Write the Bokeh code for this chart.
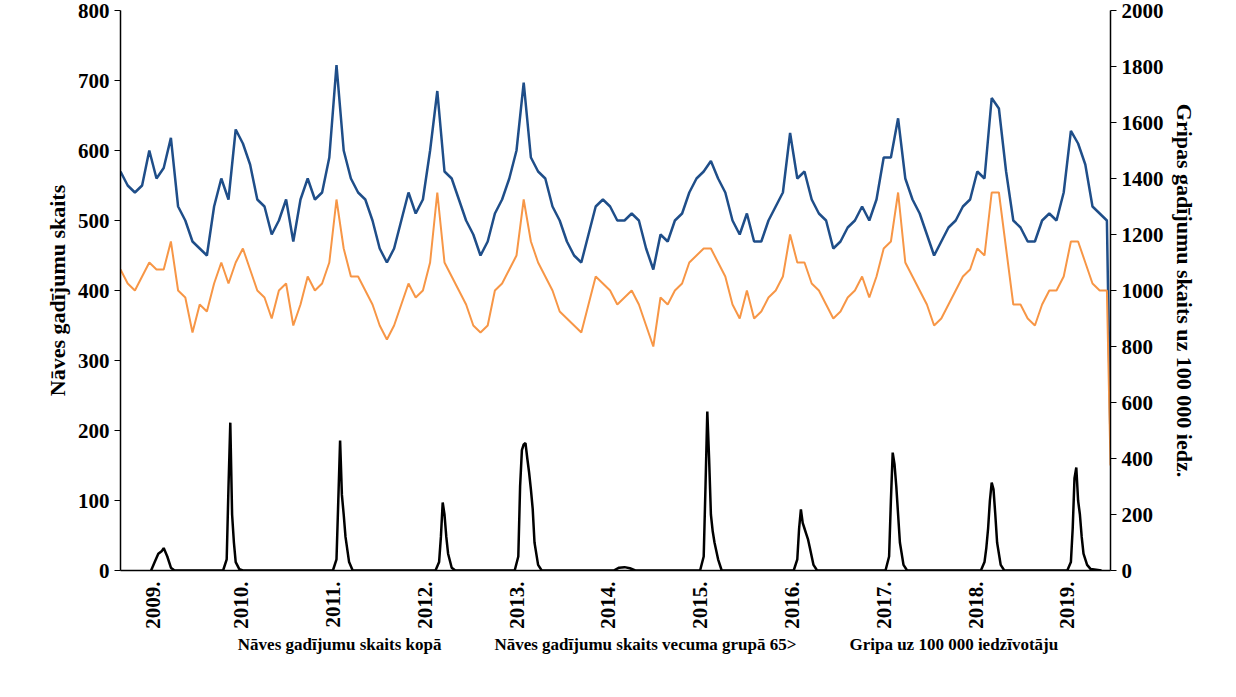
import math
from bokeh.plotting import figure
from bokeh.layouts import column
from bokeh.models import Range1d, LinearAxis, FixedTicker, Legend
from bokeh.embed import file_html
from bokeh.resources import INLINE

years = ["2009.", "2010.", "2011.", "2012.", "2013.", "2014.", "2015.", "2016.", "2017.", "2018.", "2019."]
year_weeks = [18, 67, 118, 169, 220, 271, 322, 373, 424, 475, 526]

weeks = list(range(0, 552, 4)) + [550]
total = [570, 550, 540, 550, 600, 560, 575, 618, 520, 500,
         470, 460, 450, 520, 560, 530, 630, 610, 580, 530,
         520, 480, 500, 530, 470, 530, 560, 530, 540, 590,
         722, 600, 560, 540, 530, 500, 460, 440, 460, 500,
         540, 510, 530, 600, 685, 570, 560, 530, 500, 480,
         450, 470, 510, 530, 560, 600, 697, 590, 570, 560,
         520, 500, 470, 450, 440, 480, 520, 530, 520, 500,
         500, 510, 500, 460, 430, 480, 470, 500, 510, 540,
         560, 570, 585, 560, 540, 500, 480, 510, 470, 470,
         500, 520, 540, 625, 560, 570, 530, 510, 500, 460,
         470, 490, 500, 520, 500, 530, 590, 590, 646, 560,
         530, 510, 480, 450, 470, 490, 500, 520, 530, 570,
         560, 675, 660, 570, 500, 490, 470, 470, 500, 510,
         500, 540, 628, 610, 580, 520, 510, 500, 185]
elderly = [430, 410, 400, 420, 440, 430, 430, 470, 400, 390,
           340, 380, 370, 410, 440, 410, 440, 460, 430, 400,
           390, 360, 400, 410, 350, 380, 420, 400, 410, 440,
           530, 460, 420, 420, 400, 380, 350, 330, 350, 380,
           410, 390, 400, 440, 540, 440, 420, 400, 380, 350,
           340, 350, 400, 410, 430, 450, 530, 470, 440, 420,
           400, 370, 360, 350, 340, 380, 420, 410, 400, 380,
           390, 400, 380, 350, 320, 390, 380, 400, 410, 440,
           450, 460, 460, 440, 420, 380, 360, 400, 360, 370,
           390, 400, 420, 480, 440, 440, 410, 400, 380, 360,
           370, 390, 400, 420, 390, 420, 460, 470, 540, 440,
           420, 400, 380, 350, 360, 380, 400, 420, 430, 460,
           450, 540, 540, 460, 380, 380, 360, 350, 380, 400,
           400, 420, 470, 470, 440, 410, 400, 400, 150]

flu_weeks = [17, 19, 21, 23, 24, 26, 28, 30,
             57, 59, 60, 61, 62, 63, 64, 66, 68,
             118, 120, 121, 122, 123, 124, 125, 127, 129,
             175, 177, 178, 179, 180, 181, 182, 184, 186,
             219, 221, 222, 223, 224, 225, 226, 227, 228, 229, 230, 232, 234,
             274, 277, 280, 283, 286,
             322, 324, 325, 326, 327, 328, 329, 330, 332, 334,
             374, 376, 377, 378, 379, 380, 381, 382, 383, 385, 387,
             425, 427, 428, 429, 430, 431, 432, 433, 435, 437,
             478, 480, 481, 482, 483, 484, 485, 486, 487, 489, 491,
             526, 528, 529, 530, 531, 532, 533, 534, 535, 537, 539, 545]
flu = [0, 30, 60, 70, 80, 50, 10, 0,
       0, 40, 300, 528, 200, 100, 30, 5, 0,
       0, 40, 250, 464, 270, 200, 120, 30, 0,
       0, 30, 120, 243, 200, 120, 60, 10, 0,
       0, 50, 300, 430, 450, 455, 400, 350, 290, 220, 100, 20, 0,
       0, 10, 12, 8, 0,
       0, 50, 300, 568, 400, 200, 140, 100, 40, 0,
       0, 40, 150, 218, 170, 150, 130, 110, 80, 20, 0,
       0, 50, 250, 421, 380, 300, 200, 100, 20, 0,
       0, 30, 80, 150, 250, 314, 290, 200, 100, 20, 0,
       0, 30, 150, 330, 368, 250, 200, 120, 60, 20, 5, 0]

series_names = ["Nāves gadījumu skaits kopā",
                "Nāves gadījumu skaits vecuma grupā 65>",
                "Gripa uz 100 000 iedzīvotāju"]
series_colors = ["#1f4e89", "#f79646", "black"]

FONT = "Liberation Serif"

p = figure(frame_width=990, frame_height=560, x_range=Range1d(0, 550), y_range=Range1d(0, 800),
           output_backend="svg", toolbar_location=None,
           min_border_left=120, min_border_right=10, min_border_top=10, min_border_bottom=0)
p.extra_y_ranges = {"flu": Range1d(0, 2000)}
p.xgrid.visible = False
p.ygrid.visible = False
p.outline_line_color = None

p.line(weeks, total, color=series_colors[0], line_width=2.5)
p.line(weeks, elderly, color=series_colors[1], line_width=2)
p.line(flu_weeks, flu, color=series_colors[2], line_width=2.5, y_range_name="flu")

p.xaxis.ticker = FixedTicker(ticks=year_weeks)
p.xaxis.major_label_overrides = {w: y for w, y in zip(year_weeks, years)}
p.xaxis.major_label_orientation = math.pi / 2
p.xaxis.minor_tick_line_color = None

p.yaxis.ticker = FixedTicker(ticks=list(range(0, 801, 100)))
p.yaxis.axis_label = "Nāves gadījumu skaits"
p.yaxis.minor_tick_line_color = None
p.yaxis.major_tick_out = 6
p.yaxis.major_tick_in = 0

right = LinearAxis(y_range_name="flu", ticker=FixedTicker(ticks=list(range(0, 2001, 200))),
                   axis_label="Gripas gadījumu skaits uz 100 000 iedz.")
right.minor_tick_line_color = None
right.major_tick_in = 0
right.major_tick_out = 6
p.add_layout(right, "right")

for ax in [p.xaxis[0], p.yaxis[0], right]:
    ax.major_label_text_font = FONT
    ax.major_label_text_font_style = "bold"
    ax.major_label_text_font_size = "21px"
    ax.major_label_text_color = "black"
    ax.axis_label_text_font = FONT
    ax.axis_label_text_font_style = "bold"
    ax.axis_label_text_font_size = "22px"
    ax.axis_label_text_color = "black"
    ax.axis_line_color = "black"
    ax.axis_line_width = 1.5
    ax.major_tick_line_color = "black"
p.xaxis.major_tick_line_color = None

# legend lives in its own thin figure under the chart
leg_fig = figure(width=1220, height=28, output_backend="svg", toolbar_location=None,
                 x_range=Range1d(0, 1), y_range=Range1d(0, 1),
                 min_border=0)
leg_fig.axis.visible = False
leg_fig.grid.visible = False
leg_fig.outline_line_color = None
items = []
for name, c in zip(series_names, series_colors):
    r = leg_fig.line([], [], color=c, line_width=2.5)
    items.append((name, [r]))
legend = Legend(items=items, orientation="horizontal", location="center",
                label_text_font=FONT, label_text_font_style="bold",
                label_text_font_size="17px", label_text_color="black",
                border_line_color=None, background_fill_alpha=0,
                glyph_width=40, spacing=8, padding=0, margin=0)
leg_fig.add_layout(legend)

open("out.html", "w").write(file_html(column(p, leg_fig, spacing=0), INLINE))
